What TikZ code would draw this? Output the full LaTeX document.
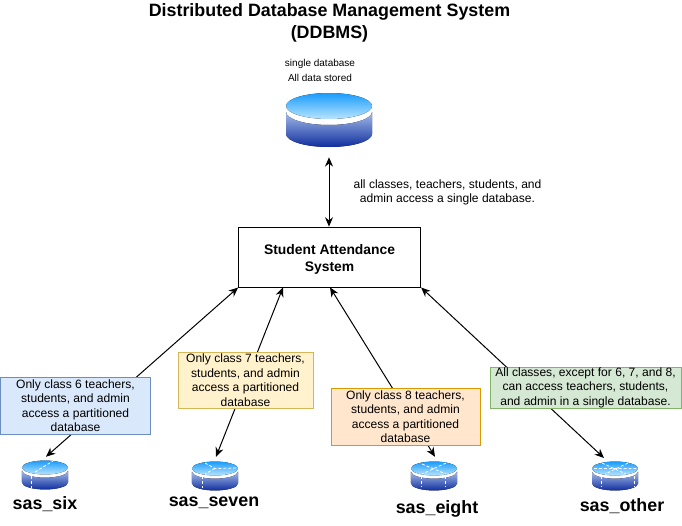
\documentclass[tikz,border=0pt]{standalone}
\usepackage{fontspec}
\setmainfont{Liberation Sans}
\usetikzlibrary{arrows.meta}
\definecolor{blueF}{HTML}{DAE8FC}\definecolor{blueD}{HTML}{6C8EBF}
\definecolor{yelF}{HTML}{FFF2CC}\definecolor{yelD}{HTML}{D6B656}
\definecolor{orF}{HTML}{FFE6CC}\definecolor{orD}{HTML}{D79B00}
\definecolor{grF}{HTML}{D5E8D4}\definecolor{grD}{HTML}{82B366}
\definecolor{topA}{HTML}{1A9CFF}\definecolor{topB}{HTML}{B8E4FF}
\definecolor{bodyA}{HTML}{A6BDEA}\definecolor{bodyB}{HTML}{0F2E9E}
\tikzset{
 note/.style={draw=#1D,fill=#1F,line width=.75pt,align=center,inner sep=0pt,font=\fontsize{9.05pt}{10.9pt}\selectfont},
 conntwo/.style={line width=.75pt,{Stealth[length=7pt,width=6pt]}-{Stealth[length=7pt,width=6pt]}},
 lbl/.style={inner sep=0pt,align=center,font=\fontsize{9.05pt}{11pt}\selectfont},
 smalllbl/.style={inner sep=0pt,align=center,font=\fontsize{7.5pt}{11pt}\selectfont},
 dbname/.style={inner sep=0pt,font=\bfseries\fontsize{13.4pt}{15pt}\selectfont},
 dash line/.style={draw=white,line width=.6pt,dash pattern=on 2.2pt off 1.5pt},
 dbanchor/.style={inner sep=0pt,minimum width=#1*64.5pt,minimum height=#1*47.25pt},
}
% body and top of a cylinder: x, y centre of top, scale (1 = big one)
\newcommand{\dbcyl}[3]{%
 \begin{scope}[shift={(#1,#2)}]
  \fill[top color=bodyA,bottom color=bodyB]
    (-43*#3,6*#3) -- (-43*#3,28*#3) arc[start angle=180,end angle=360,x radius=43*#3*.75pt,y radius=13*#3*.75pt]
    -- (43*#3,6*#3) arc[start angle=0,end angle=-180,x radius=43*#3*.75pt,y radius=13*#3*.75pt] -- cycle;
  \fill[top color=topA,bottom color=topB] (0,0) ellipse[x radius=43*#3*.75pt,y radius=13*#3*.75pt];
 \end{scope}}
\begin{document}
\begin{tikzpicture}[x=.75pt,y=-.75pt]
\useasboundingbox (0,0) rectangle (682,525);
\node[inner sep=0pt,align=center,font=\bfseries\fontsize{13.4pt}{16.5pt}\selectfont] (title) at (329.5,22.5) {Distributed Database Management System\\(DDBMS)};
\node[smalllbl] (single) at (320,70.5) {single database\\All data stored};
\dbcyl{329}{106}{1}
\node[dbanchor=1] (db) at (329,125.5) {};
\node[draw=black,fill=white,line width=.75pt,minimum width=136.5pt,minimum height=45pt,inner sep=0pt,align=center,font=\bfseries\fontsize{10.4pt}{12.8pt}\selectfont] (sys) at (329.6,257) {\raisebox{-4.5pt}[0pt][0pt]{Student Attendance}\\\raisebox{-4.5pt}[0pt][0pt]{System}};
\node[lbl] (all) at (447.5,192.5) {all classes, teachers, students, and\\admin access a single database.};
\dbcyl{45}{467.5}{.535}
\dbcyl{215}{468.5}{.535}
\dbcyl{434}{468.5}{.535}
\dbcyl{615}{468.5}{.535}
\node[dbanchor=.535] (six) at (46,473.9) {};
\node[dbanchor=.535] (seven) at (216,473.9) {};
\node[dbanchor=.535] (eight) at (435,473.9) {};
\node[dbanchor=.535] (other) at (615,473.9) {};
% partition marks
\draw[dash line] (35,472) -- (53,461);
\draw[dash line] (31,476) -- (31,488);
\draw[dash line] (205,463) -- (215,468.5) -- (237,468) (215,468.5) -- (205,474);
\draw[dash line] (202,476) -- (202,488);
\draw[dash line] (422,464) -- (446,474) (446,463) -- (422,474);
\draw[dash line] (421,476) -- (421,487) (445,476) -- (445,487);
\draw[dash line] (594,468.5) -- (637,468.5) (602,463) -- (626,474) (628,463) -- (605,474);
\draw[dash line] (601,476) -- (601,487) (634,476) -- (634,487);
\node[dbname] (n6) at (45,504) {sas\_six};
\node[dbname] (n7) at (214,503) {sas\_seven};
\node[dbname] (n8) at (437,509) {sas\_eight};
\node[dbname] (n9) at (622,506) {sas\_other};
\coordinate (s7) at (283,287.4);
\coordinate (s8) at (330,287.4);
\coordinate (sn) at (329,226.6);
\coordinate (t9) at (604,458);
\draw[conntwo] (db.south) -- (sn);
\draw[conntwo] (six.north) -- (sys.south west);
\draw[conntwo] (seven.north) -- (s7);
\draw[conntwo] (eight.north) -- (s8);
\draw[conntwo] (t9) -- (sys.south east);
\node[note=blue,minimum width=112.5pt,minimum height=42.75pt] (c6) at (75.5,405.5) {Only class 6 teachers,\\students, and admin\\access a partitioned\\database};
\node[note=yel,minimum width=101.25pt,minimum height=42.4pt] (c7) at (245.5,380.3) {Only class 7 teachers,\\students, and admin\\access a partitioned\\database};
\node[note=or,minimum width=111.75pt,minimum height=42.75pt] (c8) at (405.5,416.5) {Only class 8 teachers,\\students, and admin\\access a partitioned\\database};
\node[note=gr,minimum width=143.25pt,minimum height=30.75pt] (c9) at (585.5,387.5) {All classes, except for 6, 7, and 8,\\can access teachers, students,\\and admin in a single database.};
\end{tikzpicture}
\end{document}
